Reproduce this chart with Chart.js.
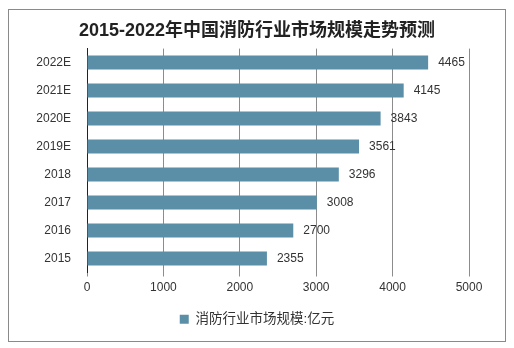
<!DOCTYPE html>
<html>
<head>
<meta charset="utf-8">
<script src="https://cdn.jsdelivr.net/npm/chart.js@4"></script>
<style>
  html, body { margin: 0; padding: 0; background: #fff; }
  #wrap { position: relative; width: 514px; height: 348px; }
  #frame { position: absolute; left: 8px; top: 9px; width: 496px; height: 331px; border: 1px solid #8a8a8a; pointer-events: none; }
</style>
</head>
<body>
<div id="wrap">
  <canvas id="c" width="514" height="348"></canvas>
  <div id="frame"></div>
</div>
<script>
/* ── Data ── */
const YEARS  = ['2022E', '2021E', '2020E', '2019E', '2018', '2017', '2016', '2015'];
const VALUES = [4465, 4145, 3843, 3561, 3296, 3008, 2700, 2355];
const X_TICKS = [0, 1000, 2000, 3000, 4000, 5000];
const SERIES = '消防行业市场规模:亿元';
const TITLE  = '2015-2022年中国消防行业市场规模走势预测';

const FONT = '"Liberation Sans", Arial, "Noto Sans CJK SC", sans-serif';
const BAR  = '#5b8fa8';

/* ── Value labels at bar ends ── */
const valueLabels = {
  id: 'valueLabels',
  afterDatasetsDraw(chart) {
    const { ctx } = chart;
    ctx.save();
    ctx.font = '12px ' + FONT;
    ctx.fillStyle = '#333';
    ctx.textAlign = 'left';
    ctx.textBaseline = 'middle';
    chart.getDatasetMeta(0).data.forEach((bar, i) => {
      ctx.fillText(VALUES[i], bar.x + 10, bar.y);
    });
    ctx.restore();
  },
};

new Chart(document.getElementById('c'), {
  type: 'bar',
  plugins: [valueLabels],
  data: {
    labels: YEARS,
    datasets: [{
      label: SERIES,
      data: VALUES,
      backgroundColor: BAR,
      barPercentage: 1,
      categoryPercentage: 0.5,
    }],
  },
  options: {
    indexAxis: 'y',
    responsive: false,
    animation: false,
    layout: { padding: { top: 20, left: 10, right: 10, bottom: 12 } },
    plugins: {
      title: {
        display: true,
        text: TITLE,
        color: '#222',
        font: { family: FONT, size: 18, weight: 'bold' },
        padding: { top: 0, bottom: 7 },
      },
      legend: {
        position: 'bottom',
        labels: {
          color: '#333',
          font: { family: FONT, size: 13.5 },
          boxWidth: 9,
          boxHeight: 9,
          padding: 10,
        },
      },
      tooltip: { enabled: false },
    },
    scales: {
      x: {
        min: 0,
        max: 5000,
        afterBuildTicks: s => { s.ticks = X_TICKS.map(v => ({ value: v })); },
        afterFit: s => { s.height = 30; },
        border: { display: false },
        grid: { color: '#8c8c8c', lineWidth: 1, drawTicks: true, tickLength: 4 },
        ticks: {
          color: '#333',
          font: { family: FONT, size: 12 },
          padding: 4,
          callback: v => String(v),
        },
      },
      y: {
        afterFit: s => { s.width = 77; },
        border: { display: true, color: '#222', width: 1 },
        grid: { display: false },
        ticks: { color: '#333', font: { family: FONT, size: 12 }, padding: 8 },
      },
      /* empty right-hand gutter so title and legend centre on the canvas */
      gutter: {
        axis: 'y',
        position: 'right',
        afterFit: s => { s.width = 35; },
        grid: { display: false },
        border: { display: false },
        ticks: { display: false },
      },
    },
  },
});
</script>
</body>
</html>
